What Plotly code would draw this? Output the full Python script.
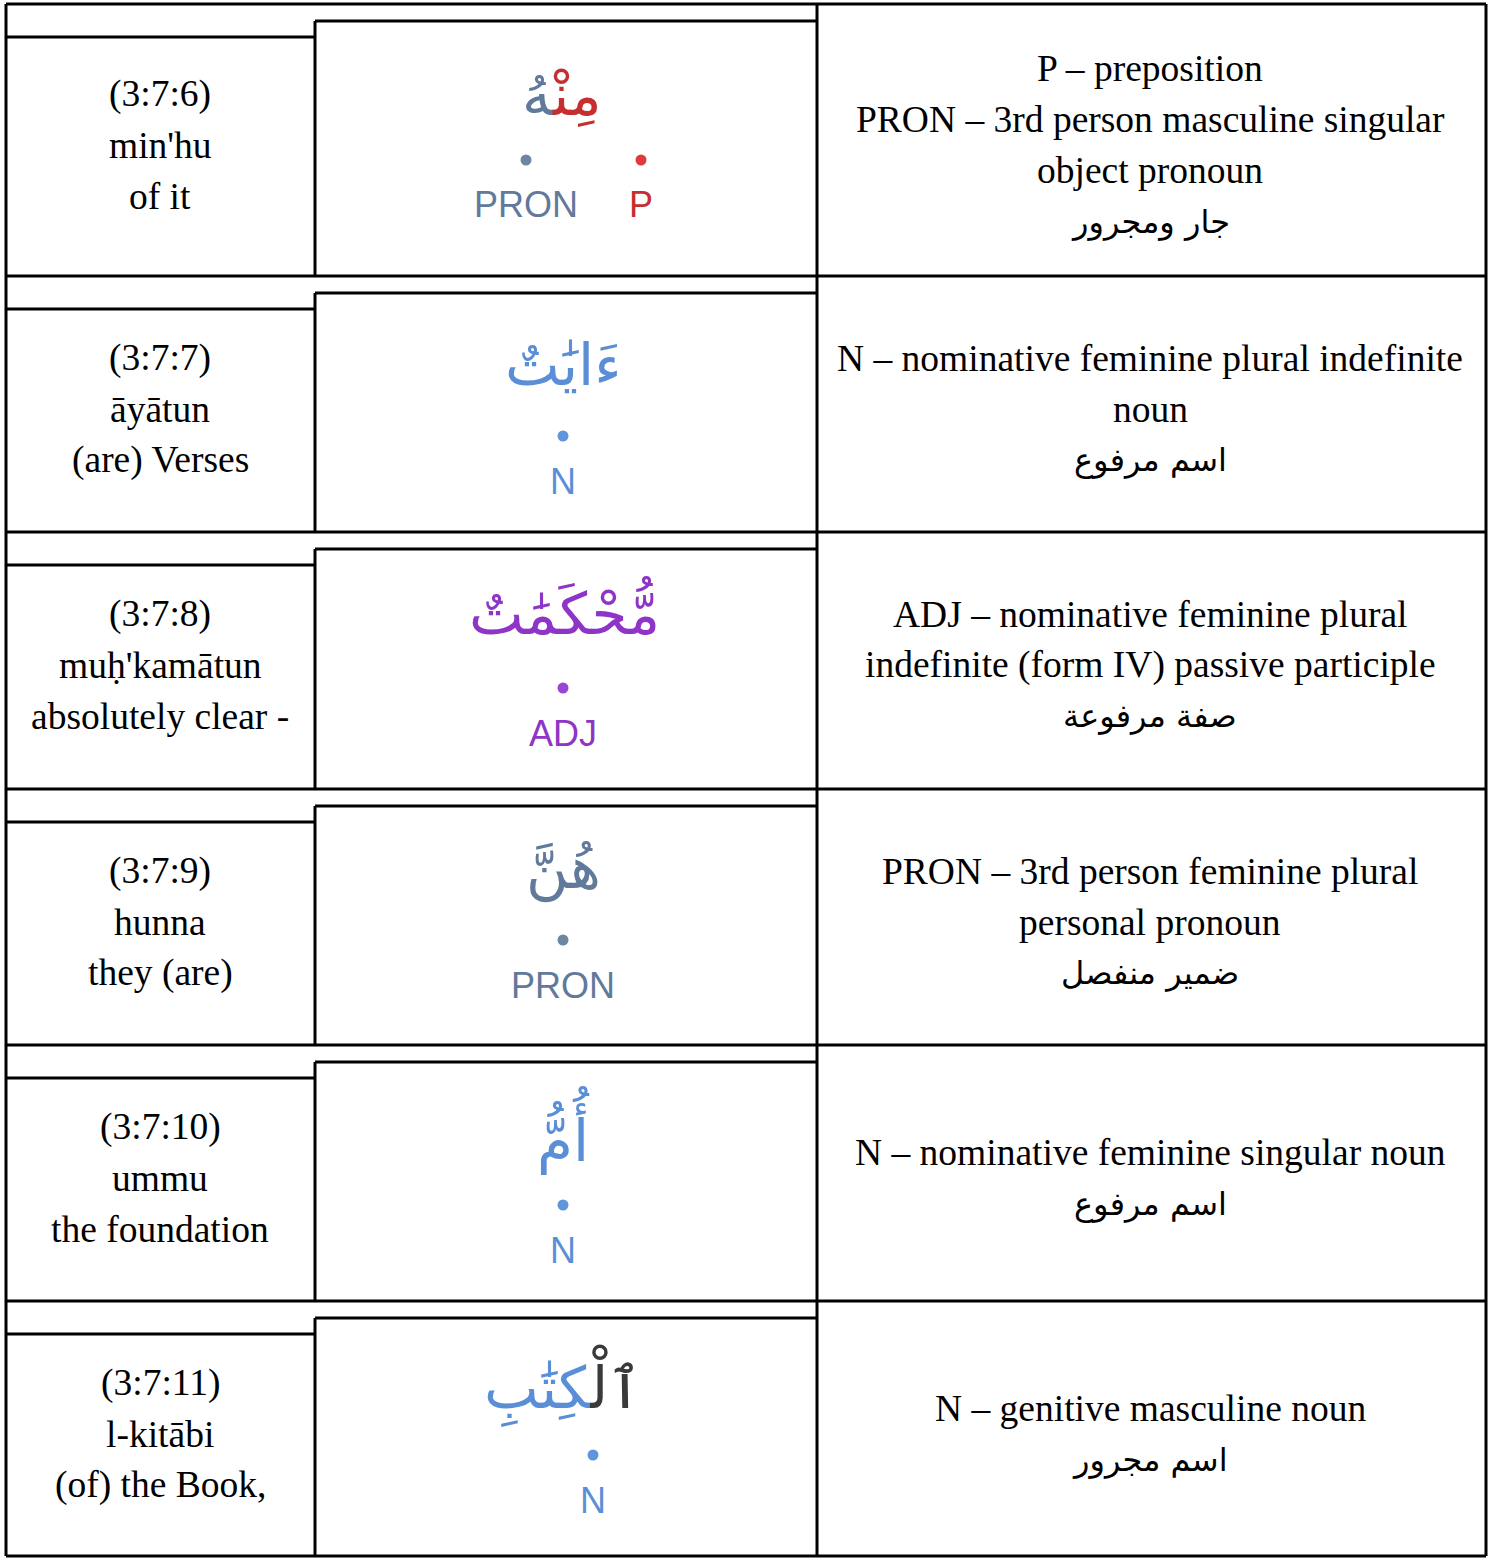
import plotly.graph_objects as go

# ---------------- data ----------------
refs = ["(3:7:6)", "(3:7:7)", "(3:7:8)", "(3:7:9)", "(3:7:10)", "(3:7:11)"]
translit = ["min'hu", "āyātun", "muḥ'kamātun", "hunna", "ummu", "l-kitābi"]
gloss = ["of it", "(are) Verses", "absolutely clear -", "they (are)", "the foundation", "(of) the Book,"]

ZWJ = "\u200d"
# Arabic word segments (logical order) with their colours
word_segments = [
    [("مِنْ" + ZWJ, "#c62f2f"), (ZWJ + "هُ", "#61799a")],
    [("ءَايَٰتٌ", "#5a8fd8")],
    [("مُّحْكَمَٰتٌ", "#8e35c8")],
    [("هُنَّ", "#61799a")],
    [("أُمُّ", "#5a8fd8")],
    [("ٱلْ" + ZWJ, "#3a3a3a"), (ZWJ + "كِتَٰبِ", "#5a8fd8")],
]
# POS tags per word (with colours)
tags = [
    [("PRON", "#61799a"), ("P", "#c62f2f")],
    [("N", "#5a8fd8")],
    [("ADJ", "#8e35c8")],
    [("PRON", "#61799a")],
    [("N", "#5a8fd8")],
    [("N", "#5a8fd8")],
]
dot_colors = {"#61799a": "#6f86a3", "#c62f2f": "#e03a3a", "#5a8fd8": "#5f95dc", "#8e35c8": "#9a45d6"}

descriptions = [
    ["P – preposition", "PRON – 3rd person masculine singular", "object pronoun", "جار ومجرور"],
    ["N – nominative feminine plural indefinite", "noun", "اسم مرفوع"],
    ["ADJ – nominative feminine plural", "indefinite (form IV) passive participle", "صفة مرفوعة"],
    ["PRON – 3rd person feminine plural", "personal pronoun", "ضمير منفصل"],
    ["N – nominative feminine singular noun", "اسم مرفوع"],
    ["N – genitive masculine noun", "اسم مجرور"],
]

# ---------------- layout geometry ----------------
W, H = 1495, 1558
row_lines = [4, 276, 532, 789, 1045, 1301, 1556]
x_left, x_mid, x_right, x_end = 6, 315, 817, 1486
left_top_off = 33
mid_top_off = 17
text_center = [145, 409, 665, 922, 1178, 1434]
line_gap = 51
word_y = [95, 365, 612, 868, 1130, 1385]
dot_y = [160, 436, 688, 940, 1205, 1455]
label_y = [204, 481, 733, 985, 1250, 1500]
word_x = [562, 563, 564, 563, 563, 563]
tag_x = [[526, 641], [563], [563], [563], [563], [593]]

serif = "Liberation Serif, Times New Roman, DejaVu Sans, serif"
sans = "Liberation Sans, Arial, DejaVu Sans, sans-serif"
arab = "DejaVu Sans, Noto Sans, sans-serif"

fig = go.Figure()
shapes = []
LW = 3

def hline(x0, x1, y):
    shapes.append(dict(type="line", x0=x0, x1=x1, y0=y, y1=y, xref="x", yref="y",
                       line=dict(color="black", width=LW)))

def vline(x, y0, y1):
    shapes.append(dict(type="line", x0=x, x1=x, y0=y0, y1=y1, xref="x", yref="y",
                       line=dict(color="black", width=LW)))

for i in range(len(refs)):
    top, bot = row_lines[i], row_lines[i + 1]
    hline(x_left, x_end, top)
    hline(x_left, x_mid, top + left_top_off)
    hline(x_mid, x_right, top + mid_top_off)
    vline(x_mid, top + mid_top_off, bot)
    vline(x_right, top, bot)
hline(x_left, x_end, row_lines[-1])
vline(x_left, row_lines[0], row_lines[-1])
vline(x_end, row_lines[0], row_lines[-1])

annotations = []

def add_text(x, y, text, size, family, color="black"):
    annotations.append(dict(x=x, y=y, xref="x", yref="y", text=text, showarrow=False,
                            xanchor="center", yanchor="middle",
                            font=dict(size=size, family=family, color=color)))

for i in range(len(refs)):
    c = text_center[i]
    # left column
    for k, t in enumerate([refs[i], translit[i], gloss[i]]):
        add_text(160, c + (k - 1) * line_gap, t, 37.5, serif)
    # right column
    lines = descriptions[i]
    n = len(lines)
    for k, t in enumerate(lines):
        y = c + (k - (n - 1) / 2) * line_gap
        if any('\u0600' <= ch <= '\u06ff' for ch in t):
            add_text(1150, y, t, 32, arab)
        else:
            add_text(1150, y, t, 37.5, serif)
    # middle column: arabic word
    word_html = "".join(f"<span style='color:{col}'>{seg}</span>" for seg, col in word_segments[i])
    add_text(word_x[i], word_y[i], word_html, 58, arab)
    # tags + dots
    for (tag, col), tx in zip(tags[i], tag_x[i]):
        add_text(tx, label_y[i], tag, 36, sans, col)
        fig.add_trace(go.Scatter(x=[tx], y=[dot_y[i]], mode="markers",
                                 marker=dict(size=11, color=dot_colors[col]),
                                 hoverinfo="skip", showlegend=False))

fig.update_layout(
    width=W, height=H,
    margin=dict(l=0, r=0, t=0, b=0),
    paper_bgcolor="white", plot_bgcolor="white",
    xaxis=dict(range=[0, W], visible=False, fixedrange=True),
    yaxis=dict(range=[H, 0], visible=False, fixedrange=True),
    shapes=shapes, annotations=annotations, showlegend=False,
)

fig.write_html("out.html", config={"displayModeBar": False},
               post_script="document.body.style.margin='0';")
